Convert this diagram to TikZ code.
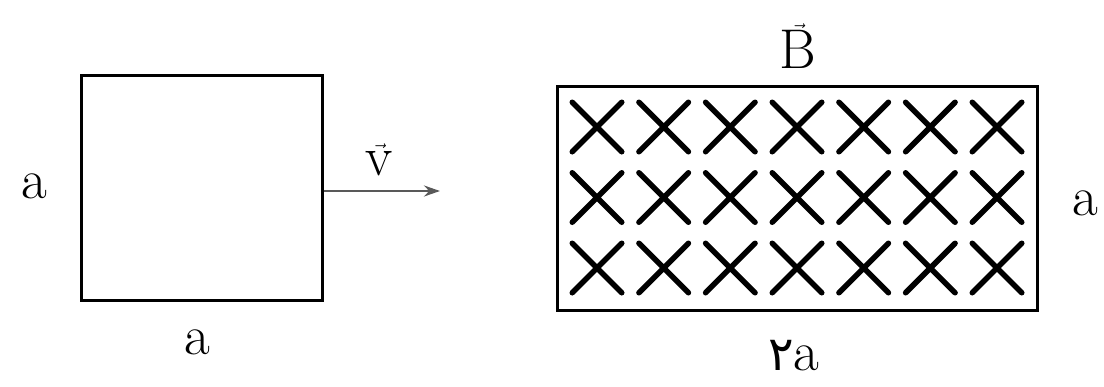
\documentclass[tikz,border=0pt]{standalone}
\usepackage{fontspec}
\newfontfamily\arabicfont[Script=Arabic,Scale=0.85]{DejaVu Sans}
\usepackage{tikz}
\usetikzlibrary{shapes.misc}
\usetikzlibrary{arrows.meta}

\tikzset{
    lbl/.style={font=\fontsize{56}{60}\selectfont, inner sep=0pt},
    frame/.style={draw, line width=3pt, inner sep=0pt},
    xmark/.style={cross out, draw, line width=5.5pt, line cap=round, minimum size=44pt, inner sep=0pt}
}

\begin{document}
\begin{tikzpicture}[x=1pt,y=-1pt]
    \useasboundingbox (0,0) rectangle (1104,386);
    % the square loop
    \node[frame, minimum width=241pt, minimum height=225pt] (loop) at (201.5,187.5) {};
    \node[lbl] (side) at (34,186) {a};
    \node[lbl] (base) at (197,342) {a};
    % velocity
    \coordinate (vtip) at (440,191);
    \draw [line width=2.5pt, gray!70!black, -{Stealth[length=16pt, width=11pt]}] (loop.east |- vtip) -- (vtip);
    \node[lbl] (vel) at (379,160) {$\vec{\mathrm{v}}$};
    % the field region
    \node[frame, minimum width=480pt, minimum height=224pt] (field) at (797,198) {};
    \node[lbl] (bvec) at (798,46) {$\vec{\mathrm{B}}$};
    \node[lbl] (height) at (1085,203) {a};
    \node[lbl, anchor=base] (width) at (794,370) {{\arabicfont ۲}a};
    \foreach \i in {0,...,6}
        \foreach \j in {0,1,2}
            \node[xmark] (x\i\j) at (597+66.67*\i, 127+70.5*\j) {};
\end{tikzpicture}
\end{document}
